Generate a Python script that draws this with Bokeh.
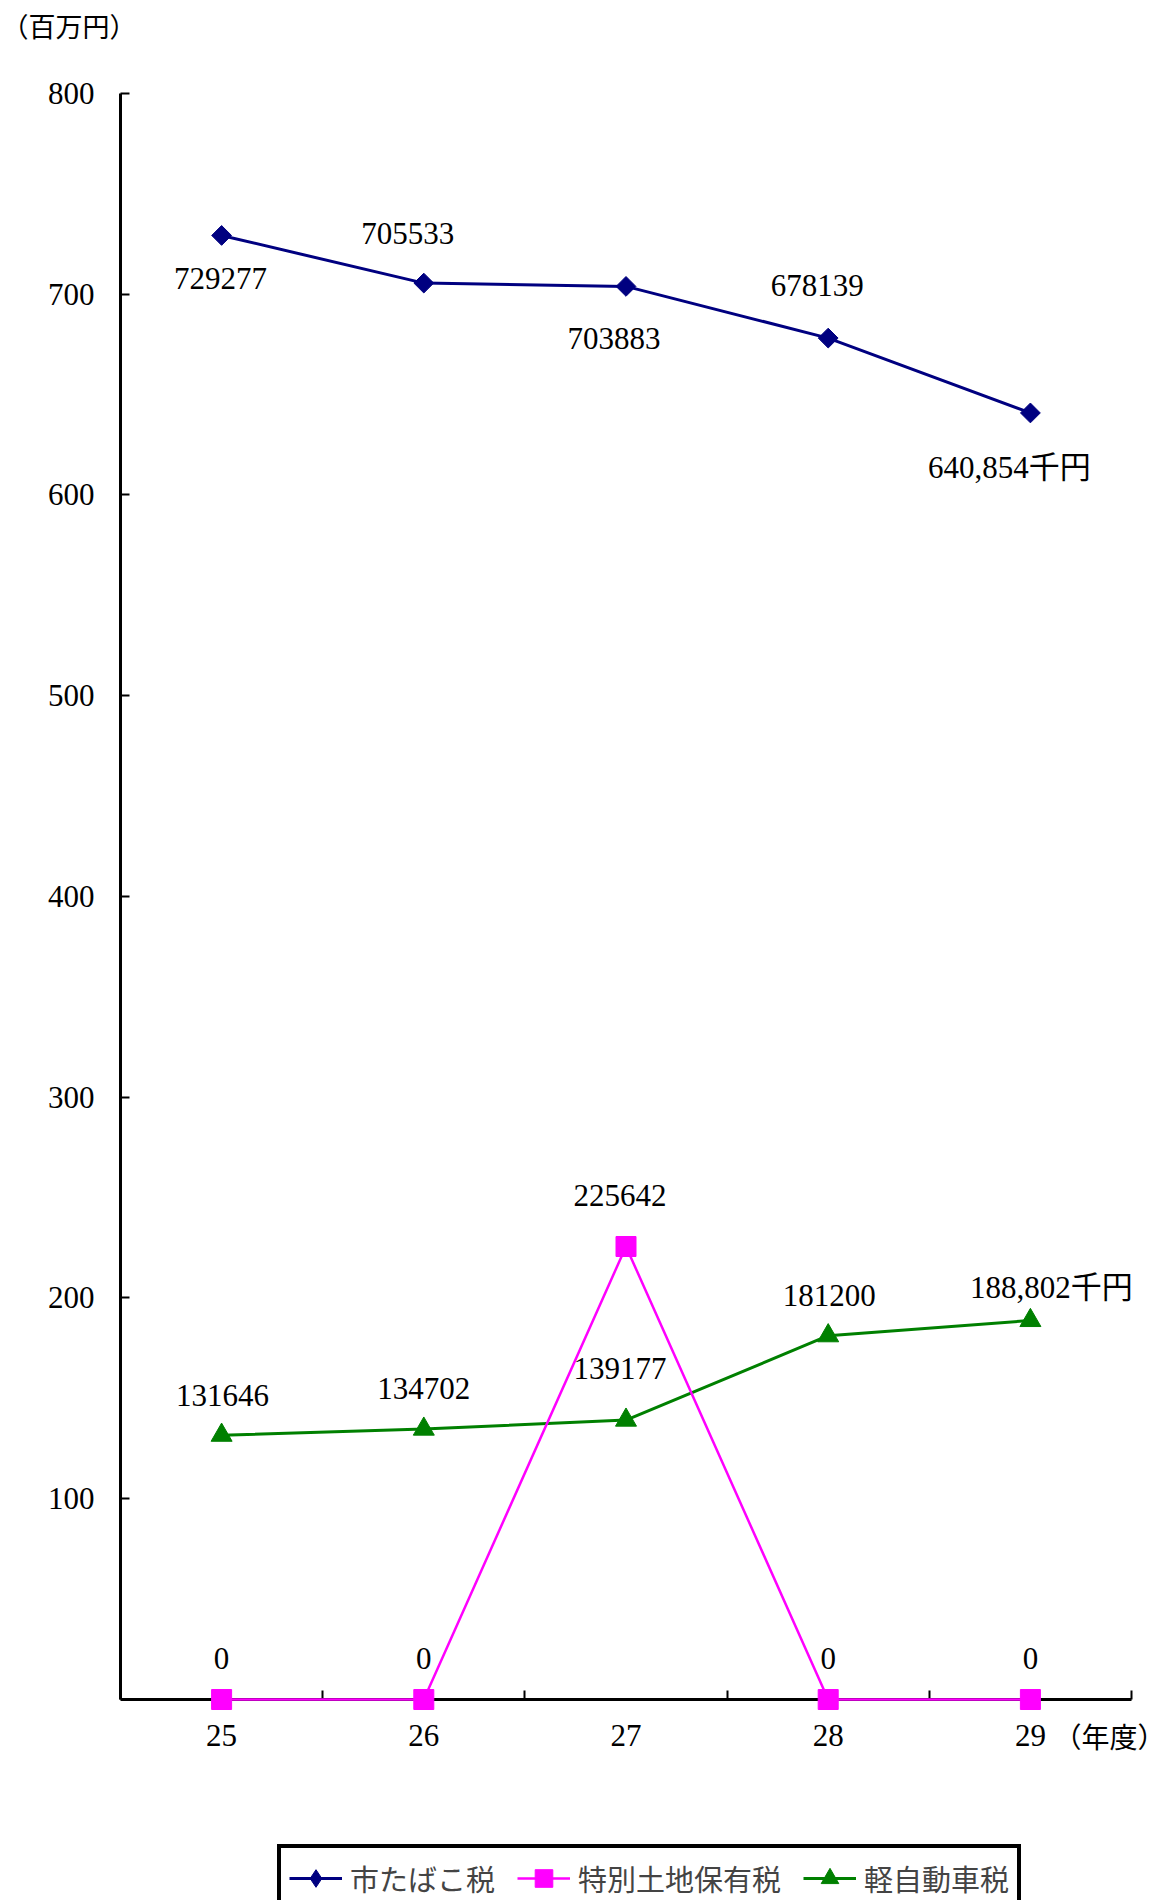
import numpy as np
from bokeh.plotting import figure
from bokeh.models import ColumnDataSource, Range1d, FixedTicker, Label, Legend, LegendItem
from bokeh.core.properties import value
from bokeh.embed import file_html
from bokeh.resources import INLINE

# ---------------- data (thousand yen) ----------------
years = ["25", "26", "27", "28", "29"]
tobacco = [729277, 705533, 703883, 678139, 640854]
special_land = [0, 0, 225642, 0, 0]
light_vehicle = [131646, 134702, 139177, 181200, 188802]
tobacco_labels = ["729277", "705533", "703883", "678139", "640,854千円"]
land_labels = ["0", "0", "225642", "0", "0"]
vehicle_labels = ["131646", "134702", "139177", "181200", "188,802千円"]
series_names = ["市たばこ税", "特別土地保有税", "軽自動車税"]
y_ticks = [100, 200, 300, 400, 500, 600, 700, 800]
y_unit = "（百万円）"
x_unit = "（年度）"

# ---------------- styles ----------------
FONT = "Liberation Serif, Noto Sans CJK JP"
NAVY, MAGENTA, GREEN = "#000080", "#FF00FF", "#008000"
tob_dx = [-1, -16, -12, -11, -21]
tob_dy = [43, -50, 52, -53, 55]
land_dx = [0, 0, -6, 0, 0]
land_dy = [-41, -41, -51, -41, -41]
veh_dx = [1, 0, -6, 1, 21]
veh_dy = [-40, -41, -52, -40, -33]

W, H = 1166, 1900
idx = list(range(len(years)))
to_m = lambda arr: [v / 1000 for v in arr]

p = figure(width=W, height=H,
           x_range=Range1d(-1.0935, 4.6731), y_range=Range1d(-100.12, 846.3),
           output_backend="svg", toolbar_location=None,
           min_border_left=0, min_border_right=0,
           min_border_top=0, min_border_bottom=0)
p.xgrid.visible = False
p.ygrid.visible = False
p.outline_line_color = None
p.background_fill_color = "white"
p.border_fill_color = "white"

# x axis
p.xaxis.ticker = FixedTicker(ticks=idx, minor_ticks=[i + 0.5 for i in range(-1, len(years))])
p.xaxis.major_label_overrides = {i: y for i, y in enumerate(years)}
p.xaxis.fixed_location = 0
p.xaxis.bounds = (-0.5, 4.5)
p.xaxis.axis_line_width = 3
p.xaxis.axis_line_color = "black"
p.xaxis.major_tick_in = 0
p.xaxis.major_tick_out = 0
p.xaxis.minor_tick_in = 9
p.xaxis.minor_tick_out = 0
p.xaxis.minor_tick_line_width = 2
p.xaxis.minor_tick_line_color = "black"
p.xaxis.major_label_standoff = 25
p.xaxis.major_label_text_font = FONT
p.xaxis.major_label_text_font_size = "31px"
p.xaxis.major_label_text_color = "black"

# y axis
p.yaxis.ticker = FixedTicker(ticks=y_ticks, minor_ticks=[])
p.yaxis.fixed_location = -0.5
p.yaxis.bounds = (0, 800)
p.yaxis.axis_line_width = 3
p.yaxis.axis_line_color = "black"
p.yaxis.major_tick_in = 9
p.yaxis.major_tick_out = 0
p.yaxis.major_tick_line_width = 2
p.yaxis.major_tick_line_color = "black"
p.yaxis.minor_tick_in = 0
p.yaxis.minor_tick_out = 0
p.yaxis.major_label_standoff = 26
p.yaxis.major_label_text_font = FONT
p.yaxis.major_label_text_font_size = "31px"
p.yaxis.major_label_text_color = "black"

# series
src_t = ColumnDataSource(dict(x=idx, y=to_m(tobacco), t=tobacco_labels, dx=tob_dx, dy=tob_dy))
src_l = ColumnDataSource(dict(x=idx, y=to_m(special_land), t=land_labels, dx=land_dx, dy=land_dy))
src_v = ColumnDataSource(dict(x=idx, y=to_m(light_vehicle), t=vehicle_labels, dx=veh_dx, dy=veh_dy))

l_v = p.line("x", "y", source=src_v, line_color=GREEN, line_width=3)
m_v = p.scatter("x", "y", source=src_v, marker="triangle", size=21, fill_color=GREEN, line_color=GREEN)

l_t = p.line("x", "y", source=src_t, line_color=NAVY, line_width=3)
# legend-shaped diamond (hidden beneath the rotated square markers in the plot)
m_t_leg = p.scatter("x", "y", source=src_t, marker="diamond", size=14, fill_color=NAVY, line_color=NAVY)
m_t = p.scatter("x", "y", source=src_t, marker="square", angle=np.pi / 4, size=14,
                fill_color=NAVY, line_color=NAVY)

l_l = p.line("x", "y", source=src_l, line_color=MAGENTA, line_width=2.5, level="overlay")
m_l = p.scatter("x", "y", source=src_l, marker="square", size=20, fill_color=MAGENTA,
                line_color=MAGENTA, level="overlay")

for src in (src_t, src_l, src_v):
    p.text("x", "y", text="t", source=src, x_offset="dx", y_offset="dy",
           text_align="center", text_baseline="middle",
           text_font=value(FONT), text_font_size="31px", text_color="black")

# unit labels
p.add_layout(Label(x=1, y=H - 27, x_units="screen", y_units="screen", text=y_unit,
                   text_font=FONT, text_font_size="27px", text_baseline="middle",
                   text_align="left", text_color="black"))
p.add_layout(Label(x=1053, y=H - 1738, x_units="screen", y_units="screen", text=x_unit,
                   text_font=FONT, text_font_size="28px", text_baseline="middle",
                   text_align="left", text_color="black"))

legend = Legend(items=[
    LegendItem(label=series_names[0], renderers=[l_t, m_t_leg]),
    LegendItem(label=series_names[1], renderers=[l_l, m_l]),
    LegendItem(label=series_names[2], renderers=[l_v, m_v]),
], orientation="horizontal", location=(277, H - 1912), glyph_width=53, glyph_height=44,
    label_standoff=8, spacing=22, padding=8, margin=0,
    border_line_color="black", border_line_width=4, border_line_alpha=1.0,
    background_fill_color="white", background_fill_alpha=1.0,
    label_text_font="Noto Sans CJK JP", label_text_font_size="29px", label_height=29)
p.add_layout(legend)

open("out.html", "w").write(file_html(p, INLINE))
